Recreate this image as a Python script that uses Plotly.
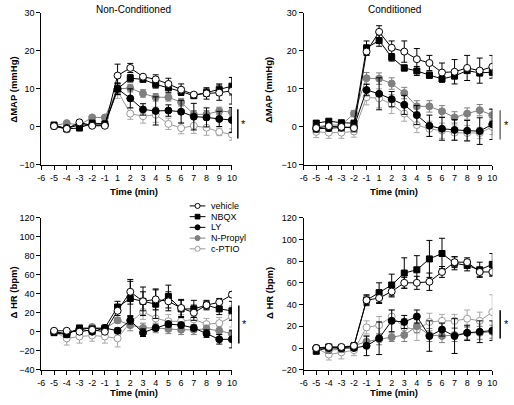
import plotly.graph_objects as go

# ---------------- data ----------------
tick_labels = ["-6", "-5", "-4", "-3", "-2", "-1", "1", "2", "3", "4", "5", "6", "7", "8", "9", "10"]
time_pts = ["-5", "-4", "-3", "-2", "-1", "1", "2", "3", "4", "5", "6", "7", "8", "9", "10"]
series_names = ["vehicle", "NBQX", "LY", "N-Propyl", "c-PTIO"]

# MAP, Non-Conditioned
map_nc = {
    "vehicle":  [0.2, -0.5, 1.2, 0.3, 0.3, 13.5, 15.5, 13.2, 12.5, 11.3, 9.8, 8.5, 8.8, 9.0, 9.5],
    "NBQX":     [0.5, -0.5, -0.3, 1.0, 0.8, 10.0, 12.8, 12.5, 11.2, 10.3, 9.3, 8.2, 9.0, 9.8, 10.7],
    "LY":       [0.2, -0.3, 0.5, 0.5, 0.5, 10.0, 7.5, 4.6, 4.2, 4.3, 4.0, 2.7, 2.5, 2.1, 1.8],
    "N-Propyl": [0.3, 1.0, 0.5, 2.5, 2.5, 10.0, 10.2, 8.8, 7.8, 7.8, 6.5, 3.3, 3.3, 4.2, 3.9],
    "c-PTIO":   [0.2, -0.7, 1.0, 0.5, 0.5, 9.5, 3.5, 2.8, 3.2, 0.8, -0.3, 0.3, -0.2, -1.3, -2.0],
}
map_nc_err = {
    "vehicle":  [0.3, 0.4, 0.5, 0.4, 0.4, 3.0, 1.2, 0.5, 1.2, 1.5, 1.5, 0.5, 1.5, 2.0, 3.5],
    "NBQX":     [0.3, 0.4, 0.5, 0.4, 0.4, 1.5, 1.0, 0.5, 1.0, 1.2, 1.0, 0.5, 1.0, 1.5, 2.3],
    "LY":       [0.3, 0.4, 0.5, 0.4, 0.4, 1.5, 2.5, 1.5, 3.7, 1.5, 3.0, 3.5, 2.5, 2.0, 3.3],
    "N-Propyl": [0.3, 0.4, 0.5, 0.4, 0.4, 1.2, 1.0, 1.0, 1.0, 1.0, 1.0, 1.0, 1.0, 1.0, 1.0],
    "c-PTIO":   [0.3, 0.4, 0.5, 0.4, 0.4, 2.0, 1.5, 1.8, 2.0, 1.5, 1.5, 2.0, 2.0, 1.0, 1.5],
}
# MAP, Conditioned
map_c = {
    "vehicle":  [-0.3, 0.2, 0.0, -0.3, 19.8, 25.0, 20.8, 19.8, 17.8, 16.8, 14.3, 14.5, 15.5, 14.8, 15.8],
    "NBQX":     [1.0, 1.5, 1.1, 1.0, 20.8, 22.7, 18.3, 15.5, 14.7, 13.6, 12.6, 13.4, 14.8, 14.2, 14.4],
    "LY":       [-0.5, -0.3, -0.2, 0.0, 9.7, 8.7, 7.3, 5.8, 3.1, 0.3, -0.5, -0.8, -1.0, -1.1, 0.7],
    "N-Propyl": [0.0, 0.5, 0.5, 3.5, 12.8, 12.7, 11.4, 8.9, 5.4, 5.4, 4.1, 2.5, 3.5, 4.4, 3.1],
    "c-PTIO":   [-1.3, -1.5, -1.5, -1.2, 7.8, 7.5, 6.0, 3.5, 0.5, -0.5, -1.0, -1.5, -1.6, -1.6, 0.0],
}
map_c_err = {
    "vehicle":  [1.0, 1.0, 1.0, 1.0, 1.0, 1.6, 1.8, 2.8, 2.8, 2.0, 2.5, 3.2, 3.3, 3.3, 3.0],
    "NBQX":     [0.5, 0.5, 0.5, 0.5, 1.8, 1.5, 1.0, 0.8, 1.2, 0.8, 0.8, 0.8, 0.5, 0.8, 0.8],
    "LY":       [0.8, 0.8, 0.8, 0.8, 1.5, 4.2, 2.0, 2.5, 2.5, 2.8, 3.0, 2.7, 2.7, 3.5, 4.0],
    "N-Propyl": [0.8, 0.8, 0.8, 0.8, 1.5, 1.5, 1.5, 1.5, 1.5, 1.5, 1.5, 1.5, 1.5, 1.5, 1.5],
    "c-PTIO":   [1.5, 1.5, 1.5, 1.5, 2.0, 2.5, 2.5, 2.0, 2.0, 2.0, 2.0, 2.0, 2.0, 1.5, 2.0],
}
# HR, Non-Conditioned
hr_nc = {
    "vehicle":  [1, 1, 0, 2, 0, 22, 42, 32, 34, 32, 25, 20, 28, 31, 39],
    "NBQX":     [-1, -3, 4, 3, 4, 26, 35, 32, 29, 37, 24, 24, 28, 24, 22],
    "LY":       [0, -2, 3, 0, 4, 1, 12, -1, 4, 8, 7, 4, -2, -8, -8],
    "N-Propyl": [0, -3, 3, 5, 3, 12, 7, 4, 4, 3, 2, 2, 3, 1, -2],
    "c-PTIO":   [0, -7, -5, -4, -5, -7, 10, 21, 14, 11, 11, 13, 8, 9, 16],
}
hr_nc_err = {
    "vehicle":  [2, 2, 2, 2, 2, 5, 13, 15, 11, 10, 9, 8, 4, 4, 3],
    "NBQX":     [2, 2, 2, 2, 2, 6, 18, 10, 15, 12, 9, 9, 5, 6, 10],
    "LY":       [2, 2, 2, 2, 2, 3, 4, 4, 3, 3, 3, 3, 4, 5, 9],
    "N-Propyl": [2, 2, 2, 2, 2, 3, 6, 5, 5, 5, 5, 5, 4, 4, 4],
    "c-PTIO":   [2, 7, 7, 6, 7, 9, 6, 8, 9, 7, 7, 7, 6, 6, 11],
}
# HR, Conditioned
hr_c = {
    "vehicle":  [0, 1, 1, 2, 44, 46, 52, 60, 60, 61, 70, 79, 79, 70, 70],
    "NBQX":     [-3, 1, 0, 2, 44, 51, 58, 69, 72, 82, 87, 78, 76, 72, 77],
    "LY":       [0, 0, 0, 0, 2, 9, 25, 24, 29, 11, 17, 11, 14, 15, 16],
    "N-Propyl": [0, -2, -1, 2, 6, 8, 10, 12, 20, 12, 11, 12, 14, 14, 15],
    "c-PTIO":   [0, -6, -4, -2, 19, 21, 29, 19, 17, 24, 25, 25, 27, 25, 33],
}
hr_c_err = {
    "vehicle":  [2, 2, 2, 2, 5, 5, 5, 5, 6, 8, 5, 5, 4, 4, 4],
    "NBQX":     [2, 2, 2, 2, 4, 9, 10, 14, 13, 17, 14, 6, 5, 7, 10],
    "LY":       [2, 2, 2, 2, 9, 15, 10, 6, 6, 14, 6, 16, 7, 10, 9],
    "N-Propyl": [2, 3, 3, 3, 5, 5, 4, 6, 6, 6, 6, 6, 6, 6, 6],
    "c-PTIO":   [2, 5, 6, 5, 6, 8, 6, 8, 10, 8, 6, 6, 8, 8, 16],
}

panels = [
    (map_nc, map_nc_err, "x", "y"),
    (map_c, map_c_err, "x2", "y2"),
    (hr_nc, hr_nc_err, "x3", "y3"),
    (hr_c, hr_c_err, "x4", "y4"),
]

styles = {
    "vehicle":  dict(symbol="circle", fill="white", edge="black", line="black", err="black", size=7),
    "NBQX":     dict(symbol="square", fill="black", edge="black", line="black", err="black", size=6),
    "LY":       dict(symbol="circle", fill="black", edge="black", line="black", err="black", size=7),
    "N-Propyl": dict(symbol="circle", fill="#808080", edge="#808080", line="#808080", err="#808080", size=7),
    "c-PTIO":   dict(symbol="circle", fill="white", edge="#9a9a9a", line="#9a9a9a", err="#a8a8a8", size=7),
}

draw_order = ["c-PTIO", "N-Propyl", "LY", "NBQX", "vehicle"]

fig = go.Figure()
for pi, (vals, errs, xa, ya) in enumerate(panels):
    for name in draw_order:
        s = styles[name]
        fig.add_trace(go.Scatter(
            x=time_pts, y=vals[name], xaxis=xa, yaxis=ya,
            mode="lines+markers", name=name, showlegend=False,
            line=dict(color=s["line"], width=1),
            marker=dict(symbol=s["symbol"], size=s["size"], color=s["fill"],
                        line=dict(color=s["edge"], width=1)),
            error_y=dict(type="data", array=errs[name], visible=True,
                         color=s["err"], thickness=1, width=3),
        ))

W, H = 514, 405
def px_x(p):
    return p / W
def px_y(p):
    return 1 - p / H

tickfont = dict(family="Liberation Sans, Arial", size=9, color="black")
def xaxis(dom, anchor):
    return dict(domain=dom, anchor=anchor, type="category", categoryarray=tick_labels,
                tickvals=tick_labels, ticktext=tick_labels, range=[0, 15],
                showline=True, linecolor="black", linewidth=1, ticks="outside",
                ticklen=4, tickcolor="black", showgrid=False, zeroline=False,
                tickfont=tickfont)
def yaxis(dom, anchor, rng, dt):
    return dict(domain=dom, anchor=anchor, range=rng, dtick=dt, tick0=rng[0],
                showline=True, linecolor="black", linewidth=1, ticks="outside",
                ticklen=4, tickcolor="black", showgrid=False, zeroline=False,
                tickfont=tickfont)

xl = [px_x(38), px_x(232)]
xr = [px_x(305), px_x(497)]
yt = [px_y(164), px_y(8)]
yb = [px_y(374), px_y(218)]

fig.update_layout(
    width=W, height=H, margin=dict(l=0, r=0, t=0, b=0),
    paper_bgcolor="white", plot_bgcolor="white",
    font=dict(family="Liberation Sans, Arial", color="black"),
    xaxis=xaxis(xl, "y"), yaxis=yaxis(yt, "x", [-10, 30], 10),
    xaxis2=xaxis(xr, "y2"), yaxis2=yaxis(yt, "x2", [-10, 30], 10),
    xaxis3=xaxis(xl, "y3"), yaxis3=yaxis(yb, "x3", [-40, 120], 20),
    xaxis4=xaxis(xr, "y4"), yaxis4=yaxis(yb, "x4", [-20, 120], 20),
    showlegend=False,
)

ann = []
shapes = []
titlefont = dict(family="Liberation Sans, Arial", size=10, color="black")
boldfont = dict(family="Liberation Sans, Arial", size=9.5, color="black")
ann.append(dict(text="Non-Conditioned", x=px_x(132), y=px_y(5), xref="paper", yref="paper",
                showarrow=False, font=titlefont, xanchor="center", yanchor="middle"))
ann.append(dict(text="Conditioned", x=px_x(397), y=px_y(5), xref="paper", yref="paper",
                showarrow=False, font=titlefont, xanchor="center", yanchor="middle"))
for xc, yc in [(132, 191), (397, 191), (132, 397), (397, 397)]:
    ann.append(dict(text="<b>Time (min)</b>", x=px_x(xc), y=px_y(yc), xref="paper", yref="paper",
                    showarrow=False, font=boldfont, xanchor="center", yanchor="middle"))
for xc, yc, t in [(10, 87, "<b>ΔMAP (mmHg)</b>"), (270, 87, "<b>ΔMAP (mmHg)</b>"),
                  (10, 295, "<b>Δ HR (bpm)</b>"), (270, 295, "<b>Δ HR (bpm)</b>")]:
    ann.append(dict(text=t, x=px_x(xc), y=px_y(yc), xref="paper", yref="paper", textangle=-90,
                    showarrow=False, font=boldfont, xanchor="center", yanchor="middle"))

# significance bars
for lx, y0, y1, col in [(238, 107, 137, "black"), (505, 108, 138, "#707070"),
                        (239, 308, 347, "black"), (505, 313, 342, "black")]:
    shapes.append(dict(type="line", xref="paper", yref="paper", x0=px_x(lx), x1=px_x(lx),
                       y0=px_y(y0), y1=px_y(y1), line=dict(color=col, width=1.5)))
    ann.append(dict(text="*", x=px_x(lx + 6), y=px_y((y0 + y1) / 2), xref="paper", yref="paper",
                    showarrow=False, font=dict(size=11, color="black"), xanchor="center", yanchor="middle"))

# compact legend (drawn manually)
leg_y = [206, 217, 228, 239, 250]
for name, ly in zip(series_names, leg_y):
    s = styles[name]
    shapes.append(dict(type="line", xref="paper", yref="paper", x0=px_x(189), x1=px_x(205),
                       y0=px_y(ly), y1=px_y(ly), line=dict(color=s["line"], width=1)))
    r = 2.6 if s["symbol"] == "circle" else 2.4
    shapes.append(dict(type="circle" if s["symbol"] == "circle" else "rect",
                       xref="paper", yref="paper",
                       x0=px_x(197 - r), x1=px_x(197 + r), y0=px_y(ly - r), y1=px_y(ly + r),
                       fillcolor=s["fill"], line=dict(color=s["edge"], width=1)))
    ann.append(dict(text=name, x=px_x(209), y=px_y(ly), xref="paper", yref="paper",
                    showarrow=False, xanchor="left", yanchor="middle",
                    font=dict(family="Liberation Sans, Arial", size=9, color="black")))

fig.update_layout(annotations=ann, shapes=shapes)
fig.write_html("out.html", config={"displayModeBar": False},
               post_script="document.body.style.margin='0';document.body.style.overflow='hidden';")
